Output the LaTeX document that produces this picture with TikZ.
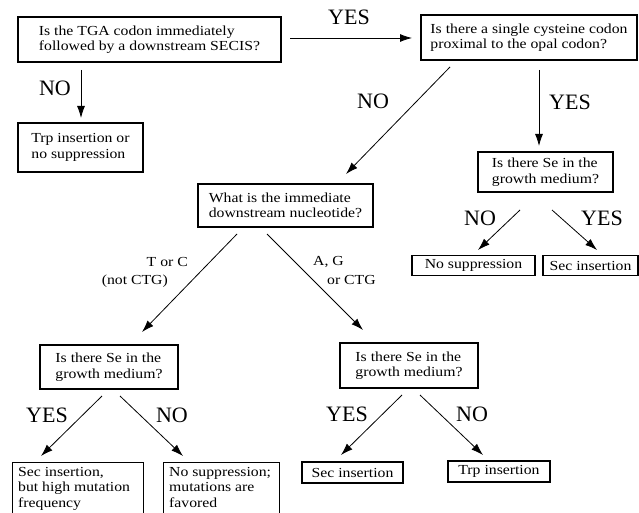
\documentclass[tikz,border=0pt]{standalone}
\usepackage{fontspec}
\setmainfont{Liberation Serif}
\newfontfamily\bodyfont[FakeStretch=1.14]{Liberation Serif}
\usetikzlibrary{arrows.meta,calc}
\tikzset{
  box/.style={draw, line width=1.1pt, inner sep=0pt, align=left, font=\bodyfont\fontsize{13.8}{15.5}\selectfont},
  txt/.style={inner sep=0pt, align=left, font=\bodyfont\fontsize{13.8}{15.5}\selectfont},
  yn/.style={inner sep=0pt, font=\fontsize{22}{24}\selectfont},
  arr/.style={line width=0.8pt, -{Latex[length=12pt,width=8pt]}},
}
\begin{document}
\begin{tikzpicture}[x=1pt,y=-1pt]
\useasboundingbox (0,0) rectangle (639,513);
% boxes
\node[box, minimum width=263, minimum height=45] (A) at (149.5,39.5) {Is the TGA codon immediately\\followed by a downstream SECIS?};
\node[box, minimum width=216, minimum height=45] (B) at (529,37.5) {Is there a single cysteine codon\\proximal to the opal codon?};
\node[box, minimum width=125, minimum height=49] (T1) at (80.5,147.5) {Trp insertion or\\no suppression};
\node[box, minimum width=135, minimum height=40] (C) at (545.5,172) {Is there Se in the\\growth medium?};
\node[box, minimum width=123, minimum height=20] (NS) at (473.5,265.5) {No suppression};
\node[box, minimum width=95, minimum height=20] (SR) at (590.5,265.5) {Sec insertion};
\node[box, minimum width=175, minimum height=43] (D) at (285.5,205.5) {What is the immediate\\downstream nucleotide?};
\node[box, minimum width=138, minimum height=44] (E) at (109,367) {Is there Se in the\\growth medium?};
\node[box, minimum width=138, minimum height=45] (F) at (409,365.5) {Is there Se in the\\growth medium?};
\node[box, minimum width=101, minimum height=21] (S2) at (352.5,472.5) {Sec insertion};
\node[box, minimum width=102, minimum height=21] (T2) at (499,471.5) {Trp insertion};
\node[box, anchor=north west, minimum width=131, minimum height=70] (SH) at (12,462) {};
\node[txt, anchor=north west] (SHt) at ($(SH.north west)+(6,5)$) {Sec insertion,\\but high mutation\\frequency};
\node[box, anchor=north west, minimum width=116, minimum height=70] (NM) at (163,462) {};
\node[txt, anchor=north west] (NMt) at ($(NM.north west)+(6,5)$) {No suppression;\\mutations are\\favored};
% connector end points
\coordinate (a1) at (290,38); \coordinate (a2) at (412,38);
\coordinate (b1) at (81,70); \coordinate (b2) at (81,118);
\coordinate (c1) at (450,67); \coordinate (c2) at (346,174);
\coordinate (d1) at (539,70); \coordinate (d2) at (539,146);
\coordinate (e1) at (520,210); \coordinate (e2) at (478,250);
\coordinate (f1) at (552,210); \coordinate (f2) at (597,250);
\coordinate (g1) at (237,234); \coordinate (g2) at (142,332);
\coordinate (h1) at (267,234); \coordinate (h2) at (363,330);
\coordinate (i1) at (102,396); \coordinate (i2) at (41,456);
\coordinate (j1) at (120,396); \coordinate (j2) at (183,456);
\coordinate (k1) at (402,395); \coordinate (k2) at (341,455);
\coordinate (l1) at (420,395); \coordinate (l2) at (483,455);
\draw[arr] (a1) -- (a2);
\draw[arr] (b1) -- (b2);
\draw[arr] (c1) -- (c2);
\draw[arr] (d1) -- (d2);
\draw[arr] (e1) -- (e2);
\draw[arr] (f1) -- (f2);
\draw[arr] (g1) -- (g2);
\draw[arr] (h1) -- (h2);
\draw[arr] (i1) -- (i2);
\draw[arr] (j1) -- (j2);
\draw[arr] (k1) -- (k2);
\draw[arr] (l1) -- (l2);
% labels
\node[yn] (L1) at (349,17) {YES};
\node[yn] (L2) at (55,88) {NO};
\node[yn] (L3) at (373,101) {NO};
\node[yn] (L4) at (570,102) {YES};
\node[yn] (L5) at (480,218) {NO};
\node[yn] (L6) at (602,218) {YES};
\node[yn] (L7) at (47,415) {YES};
\node[yn] (L8) at (172,415) {NO};
\node[yn] (L9) at (347,414) {YES};
\node[yn] (L10) at (472,414) {NO};
\node[txt, anchor=east] (L11) at (188,262) {T or C};
\node[txt, anchor=east] (L12) at (168,281) {(not CTG)};
\node[txt, anchor=west] (L13) at (313,262) {A, G};
\node[txt, anchor=west] (L14) at (327,280) {or CTG};
\end{tikzpicture}
\end{document}
